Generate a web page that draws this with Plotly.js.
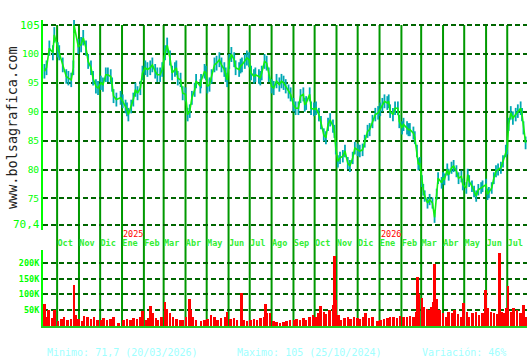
<!DOCTYPE html>
<html>
<head>
<meta charset="utf-8">
<script src="https://cdn.plot.ly/plotly-3.0.1.min.js"></script>
<style>html,body{margin:0;padding:0;background:#fff;}#chart{width:530px;height:360px;}</style>
</head>
<body>
<div id="chart"></div>
<script>
// ---- price (close) ----
const priceDates = [
"2024-09-13","2024-09-16","2024-09-20","2024-09-25","2024-09-27","2024-10-02","2024-10-04","2024-10-09","2024-10-14","2024-10-17",
"2024-10-21","2024-10-24","2024-10-25","2024-10-31","2024-11-04","2024-11-07","2024-11-11","2024-11-14","2024-11-18","2024-11-21",
"2024-11-25","2024-11-28","2024-12-02","2024-12-05","2024-12-09","2024-12-12","2024-12-16","2024-12-18","2024-12-20","2024-12-24",
"2024-12-30","2025-01-02","2025-01-06","2025-01-08","2025-01-10","2025-01-14","2025-01-17","2025-01-20","2025-01-23","2025-01-27",
"2025-01-30","2025-02-03","2025-02-06","2025-02-10","2025-02-13","2025-02-17","2025-02-20","2025-02-24","2025-02-27","2025-03-03",
"2025-03-06","2025-03-10","2025-03-13","2025-03-17","2025-03-19","2025-03-21","2025-03-25","2025-03-28","2025-04-01","2025-04-04",
"2025-04-07","2025-04-10","2025-04-14","2025-04-16","2025-04-22","2025-04-23","2025-04-28","2025-04-30","2025-05-02","2025-05-05",
"2025-05-08","2025-05-12","2025-05-15","2025-05-19","2025-05-22","2025-05-26","2025-05-28","2025-05-30","2025-06-02","2025-06-05",
"2025-06-09","2025-06-11","2025-06-16","2025-06-18","2025-06-20","2025-06-24","2025-06-27","2025-06-30","2025-07-03","2025-07-07",
"2025-07-09","2025-07-14","2025-07-16","2025-07-18","2025-07-22","2025-07-25","2025-07-28","2025-08-01","2025-08-04","2025-08-08",
"2025-08-12","2025-08-15","2025-08-18","2025-08-21","2025-08-25","2025-08-28","2025-09-01","2025-09-04","2025-09-08","2025-09-11",
"2025-09-15","2025-09-17","2025-09-19","2025-09-24","2025-09-26","2025-09-30","2025-10-03","2025-10-07","2025-10-10","2025-10-14",
"2025-10-17","2025-10-20","2025-10-23","2025-10-27","2025-10-29","2025-10-31","2025-11-03","2025-11-06","2025-11-10","2025-11-13",
"2025-11-17","2025-11-20","2025-11-24","2025-11-27","2025-12-01","2025-12-04","2025-12-08","2025-12-11","2025-12-15","2025-12-18",
"2025-12-22","2025-12-26","2025-12-30","2026-01-02","2026-01-05","2026-01-08","2026-01-12","2026-01-14","2026-01-16","2026-01-20",
"2026-01-23","2026-01-27","2026-01-29","2026-02-02","2026-02-04","2026-02-09","2026-02-11","2026-02-13","2026-02-18","2026-02-20",
"2026-02-23","2026-02-25","2026-02-27","2026-03-02","2026-03-04","2026-03-06","2026-03-10","2026-03-13","2026-03-17","2026-03-20",
"2026-03-23","2026-03-25","2026-03-30","2026-04-01","2026-04-03","2026-04-07","2026-04-09","2026-04-13","2026-04-16","2026-04-20",
"2026-04-23","2026-04-27","2026-04-29","2026-05-04","2026-05-06","2026-05-08","2026-05-12","2026-05-15","2026-05-18","2026-05-21",
"2026-05-25","2026-05-27","2026-06-01","2026-06-03","2026-06-05","2026-06-09","2026-06-12","2026-06-15","2026-06-18","2026-06-22",
"2026-06-25","2026-06-29","2026-07-01","2026-07-03","2026-07-06","2026-07-09","2026-07-13","2026-07-16","2026-07-20","2026-07-22",
"2026-07-24","2026-07-27"];
const priceClose = [
97.0,97.6,101.0,100.2,103.3,100.7,100.2,98.1,96.1,95.8,
95.5,97.6,105.0,101.3,101.6,102.8,101.0,98.7,97.6,95.8,
94.4,94.1,95.0,94.7,96.4,96.4,96.1,94.7,92.7,92.1,
92.4,91.8,90.9,90.4,89.5,90.9,92.1,93.8,93.2,94.1,
96.7,97.6,97.3,97.6,98.1,97.0,96.4,96.4,97.3,100.2,
101.5,99.3,96.7,97.3,97.6,95.8,95.5,93.2,93.0,89.5,
90.1,92.4,93.8,95.3,94.4,95.3,97.0,96.7,94.4,94.7,
96.1,98.1,98.4,99.0,98.1,97.3,96.4,95.5,98.7,99.9,
99.0,97.6,97.3,97.9,98.1,98.7,99.3,99.0,96.7,96.1,
96.4,96.1,95.8,96.7,98.7,98.4,96.4,94.4,94.1,95.3,
94.7,95.3,95.0,94.4,93.5,93.0,91.2,90.6,90.6,92.7,
93.0,91.2,91.5,93.0,90.6,90.4,90.6,89.5,88.1,86.0,
85.5,87.8,88.6,87.5,86.6,83.7,81.4,82.0,82.3,83.2,
81.1,80.6,82.0,83.7,83.4,83.2,83.4,84.9,86.6,86.9,
88.3,89.5,89.8,90.4,91.2,91.8,91.5,91.8,90.1,89.5,
90.6,90.6,88.3,87.2,87.8,87.2,86.9,86.9,86.3,85.5,
83.2,80.9,81.1,78.0,76.5,75.4,74.2,74.8,74.2,71.7,
75.7,78.5,77.7,78.5,78.3,80.0,79.1,80.3,80.6,79.7,
78.5,78.8,77.4,76.8,79.1,78.0,77.1,76.2,75.4,76.5,
76.8,77.1,77.4,75.7,76.0,76.8,78.5,79.7,80.0,80.3,
81.4,83.2,83.7,87.8,89.8,88.9,89.5,90.1,90.6,89.5,
87.2,84.6];

// ---- volume ----
const volDates = [
"2024-09-13","2024-09-16","2024-09-19","2024-09-24","2024-09-27","2024-10-02","2024-10-07","2024-10-11","2024-10-16","2024-10-21",
"2024-10-25","2024-10-28","2024-10-31","2024-11-05","2024-11-08","2024-11-13","2024-11-18","2024-11-22","2024-11-27","2024-12-02",
"2024-12-06","2024-12-11","2024-12-16","2024-12-20","2024-12-27","2025-01-03","2025-01-08","2025-01-13","2025-01-17","2025-01-22",
"2025-01-27","2025-01-30","2025-02-04","2025-02-07","2025-02-10","2025-02-13","2025-02-18","2025-02-21","2025-02-26","2025-03-03",
"2025-03-06","2025-03-10","2025-03-14","2025-03-19","2025-03-24","2025-03-28","2025-04-02","2025-04-07","2025-04-09","2025-04-11",
"2025-04-16","2025-04-23","2025-04-28","2025-05-02","2025-05-07","2025-05-12","2025-05-16","2025-05-21","2025-05-27","2025-05-30",
"2025-06-04","2025-06-09","2025-06-13","2025-06-19","2025-06-23","2025-06-27","2025-07-02","2025-07-07","2025-07-11","2025-07-16",
"2025-07-21","2025-07-23","2025-07-25","2025-07-30","2025-08-04","2025-08-08","2025-08-13","2025-08-18","2025-08-22","2025-08-27",
"2025-09-02","2025-09-05","2025-09-10","2025-09-15","2025-09-19","2025-09-24","2025-09-29","2025-10-02","2025-10-06","2025-10-09",
"2025-10-14","2025-10-17","2025-10-22","2025-10-27","2025-10-29","2025-10-31","2025-11-04","2025-11-07","2025-11-12","2025-11-17",
"2025-11-21","2025-11-26","2025-12-01","2025-12-04","2025-12-09","2025-12-12","2025-12-17","2025-12-22","2025-12-29","2026-01-02",
"2026-01-07","2026-01-12","2026-01-16","2026-01-21","2026-01-26","2026-01-30","2026-02-04","2026-02-09","2026-02-13","2026-02-18",
"2026-02-22","2026-02-24","2026-02-26","2026-03-02","2026-03-04","2026-03-09","2026-03-12","2026-03-16","2026-03-18","2026-03-20",
"2026-03-23","2026-03-27","2026-04-01","2026-04-06","2026-04-09","2026-04-14","2026-04-17","2026-04-22","2026-04-27","2026-04-30",
"2026-05-05","2026-05-08","2026-05-13","2026-05-18","2026-05-22","2026-05-27","2026-05-31","2026-06-03","2026-06-08","2026-06-12",
"2026-06-17","2026-06-20","2026-06-23","2026-06-26","2026-06-29","2026-07-02","2026-07-07","2026-07-10","2026-07-15","2026-07-20",
"2026-07-24","2026-07-27"];
const volK = [
70,30,52,25,52,15,22,28,18,22,
130,36,22,15,32,28,22,30,18,20,
25,18,22,28,10,20,22,18,25,22,
30,49,20,25,63,40,25,18,30,77,
55,40,30,22,18,20,30,86,50,30,
20,15,20,22,36,28,20,25,30,45,
22,25,18,105,20,15,20,22,18,25,
30,70,41,41,15,12,10,13,15,18,
20,22,18,25,20,30,35,30,41,63,
45,38,50,68,222,82,35,20,25,30,
22,28,25,22,30,41,25,30,15,20,
22,25,30,28,25,32,30,28,32,30,
45,155,100,90,60,55,52,60,75,196,
84,50,41,30,45,40,52,38,30,73,
45,30,41,45,35,41,113,57,45,41,
38,230,45,41,57,127,45,57,52,41,
68,30];

// ---- axis labels ----
const monthTicks = ["2024-10-01","2024-11-01","2024-12-01","2025-01-01","2025-02-01","2025-03-01","2025-04-01","2025-05-01","2025-06-01","2025-07-01","2025-08-01","2025-09-01","2025-10-01","2025-11-01","2025-12-01","2026-01-01","2026-02-01","2026-03-01","2026-04-01","2026-05-01","2026-06-01","2026-07-01"];
const monthLabels = ["Oct","Nov","Dic","Ene","Feb","Mar","Abr","May","Jun","Jul","Ago","Sep","Oct","Nov","Dic","Ene","Feb","Mar","Abr","May","Jun","Jul"];
const yearTicks = ["2025-01-01","2026-01-01"];
const yearLabels = ["2025","2026"];
const priceTicks = [70.4,75,80,85,90,95,100,105];
const priceTickText = ["","75","80","85","90","95","100",""];
const volTicks = [50000,100000,150000,200000];
const volTickText = ["50K","100K","150K","200K"];
const footer = ["Minimo: 71,7 (20/03/2026)","Maximo: 105 (25/10/2024)","Variación: 46%"];

const mono = "DejaVu Sans Mono, monospace";
const traces = [
  {x: priceDates, y: priceClose, type: "scatter", mode: "lines",
   line: {color: "#11ee11", width: 1.6},
   error_y: {type: "percent", value: 1.3, color: "#00a8b4", thickness: 1.8, width: 0},
   xaxis: "x", yaxis: "y", hoverinfo: "skip"},
  {x: volDates, y: volK.map(v => v * 1000), type: "bar",
   marker: {color: "#ff0000", line: {width: 0}}, width: 3.6 * 86400000,
   xaxis: "x2", yaxis: "y2", hoverinfo: "skip"}
];

const shapes = monthTicks.map(d => ({type: "line", xref: "x", yref: "paper", x0: d, x1: d, y0: 0, y1: 0.9837,
  line: {color: "#009900", width: 2}, layer: "below"}));

const annotations = [
  {text: "105", xref: "paper", x: 0, xanchor: "right", xshift: -1, yref: "y", y: 105, yanchor: "middle",
   showarrow: false, font: {family: mono, size: 11, color: "#00ff00"}},
  {text: "70,4", xref: "paper", x: 0, xanchor: "right", xshift: -1, yref: "y", y: 70.4, yanchor: "middle",
   showarrow: false, font: {family: mono, size: 11, color: "#00ff00"}},
  {text: "www.bolsagrafica.com", xref: "paper", x: -0.064, xanchor: "center", yref: "paper", y: 0.647, yanchor: "middle",
   textangle: -90, showarrow: false, font: {family: mono, size: 13.5, color: "#222222"}},
  {text: footer[0], xref: "paper", x: 0.004, xanchor: "left", yref: "paper", y: -0.085, yanchor: "middle",
   showarrow: false, font: {family: mono, size: 10, color: "#a0ffff"}},
  {text: footer[1], xref: "paper", x: 0.397, xanchor: "left", yref: "paper", y: -0.085, yanchor: "middle",
   showarrow: false, font: {family: mono, size: 10, color: "#a0ffff"}},
  {text: footer[2], xref: "paper", x: 0.779, xanchor: "left", yref: "paper", y: -0.085, yanchor: "middle",
   showarrow: false, font: {family: mono, size: 10, color: "#a0ffff"}}
];
yearTicks.forEach((d, i) => annotations.push({text: yearLabels[i], xref: "x", x: d, xanchor: "left", xshift: -1,
  yref: "paper", y: 0.3007, yanchor: "middle", showarrow: false, font: {family: mono, size: 8.5, color: "#ff0000"}}));

const layout = {
  width: 530, height: 360,
  margin: {l: 43, r: 3, t: 20, b: 34, pad: 0},
  paper_bgcolor: "#ffffff", plot_bgcolor: "#ffffff",
  showlegend: false,
  xaxis: {type: "date", range: ["2024-09-11", "2026-07-29"], anchor: "y",
    tickvals: monthTicks, ticktext: monthLabels, ticks: "", showgrid: false, zeroline: false,
    tickfont: {family: mono, size: 8.5, color: "#33ee33", weight: "bold"}, ticklabelshift: 8, ticklabelstandoff: 6,
    showline: false},
  yaxis: {domain: [0.3137, 1], range: [69.53, 105.87], anchor: "x",
    tickvals: priceTicks, ticktext: priceTickText, ticks: "",
    tickfont: {family: mono, size: 9.5, color: "#00ff00"},
    showgrid: true, gridcolor: "#006600", gridwidth: 2, griddash: "5px,3px", zeroline: false,
    showline: true, linecolor: "#00ff00", linewidth: 2},
  xaxis2: {type: "date", range: ["2024-09-11", "2026-07-29"], anchor: "y2", matches: "x",
    showticklabels: false, ticks: "", showgrid: false, zeroline: false,
    showline: true, linecolor: "#22cc22", linewidth: 2},
  yaxis2: {domain: [0, 0.248], range: [0, 240000], anchor: "x2",
    tickvals: volTicks, ticktext: volTickText, ticks: "",
    tickfont: {family: mono, size: 8.5, color: "#00ff00", weight: "bold"},
    showgrid: true, gridcolor: "#006600", gridwidth: 2, griddash: "5px,3px", zeroline: false,
    showline: true, linecolor: "#00ff00", linewidth: 2},
  bargap: 0,
  shapes: shapes,
  annotations: annotations
};

Plotly.newPlot("chart", traces, layout, {staticPlot: true, displayModeBar: false});
</script>
</body>
</html>
